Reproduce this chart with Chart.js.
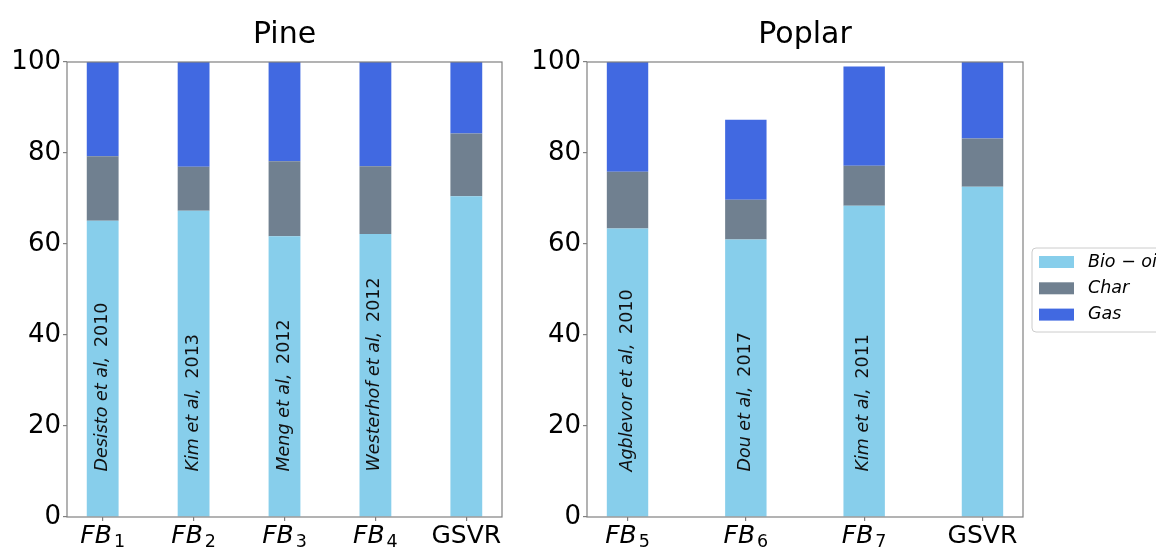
<!DOCTYPE html>
<html>
<head>
<meta charset="utf-8">
<script src="https://cdn.jsdelivr.net/npm/chart.js@4.4.1/dist/chart.umd.min.js"></script>
<style>
  html, body { margin: 0; padding: 0; background: #ffffff; }
  #wrap { position: relative; width: 1156px; height: 548px; overflow: hidden; background: #fff; }
  #pine { position: absolute; left: 0; top: 0; width: 520px; height: 548px; }
  #poplar { position: absolute; left: 520px; top: 0; width: 636px; height: 548px; }
</style>
</head>
<body>
<div id="wrap">
  <canvas id="pine" width="520" height="548"></canvas>
  <canvas id="poplar" width="636" height="548"></canvas>
</div>
<script>
// ---------------- data ----------------
const seriesNames = ['Bio \u2212 oil', 'Char', 'Gas'];
const seriesColors = ['#87CEEB', '#708090', '#4169E1'];

const pineTitle = 'Pine';
const pineLabels = ['FB1', 'FB2', 'FB3', 'FB4', 'GSVR'];
const pineBioOil = [65.1, 67.3, 61.7, 62.2, 70.5];
const pineChar   = [14.2,  9.7, 16.5, 14.9, 13.8];
const pineGas    = [20.7, 23.0, 21.8, 22.9, 15.7];
const pineRefs   = ['Desisto et al,', 'Kim et al,', 'Meng et al,', 'Westerhof et al,', ''];
const pineYears  = ['2010', '2013', '2012', '2012', ''];

const poplarTitle = 'Poplar';
const poplarLabels = ['FB5', 'FB6', 'FB7', 'GSVR'];
const poplarBioOil = [63.4, 61.0, 68.4, 72.6];
const poplarChar   = [12.5,  8.7,  8.8, 10.6];
const poplarGas    = [24.1, 17.6, 21.8, 16.8];
const poplarRefs   = ['Agblevor et al,', 'Dou et al,', 'Kim et al,', ''];
const poplarYears  = ['2010', '2017', '2011', ''];

const yTicks = [0, 20, 40, 60, 80, 100];
const refTextValue = 10;   // y value where the reference text starts

// ---------------- drawing helpers ----------------
const FONT = "'DejaVu Sans', 'Liberation Sans', sans-serif";
const SPINE = '#808080';

function drawTickLabel(ctx, label, x, y) {
  const m = /^([A-Za-z]+)(\d+)$/.exec(label);
  ctx.fillStyle = '#000';
  ctx.textBaseline = 'alphabetic';
  if (m) {
    const mainFont = 'italic 25px ' + FONT;
    const subFont = '17.5px ' + FONT;
    ctx.font = mainFont; const w1 = ctx.measureText(m[1]).width;
    ctx.font = subFont;  const w2 = ctx.measureText(m[2]).width;
    const gap = 2;
    const x0 = x - (w1 + gap + w2) / 2;
    ctx.textAlign = 'left';
    ctx.font = mainFont; ctx.fillText(m[1], x0, y);
    ctx.font = subFont;  ctx.fillText(m[2], x0 + w1 + gap, y + 4);
  } else {
    ctx.textAlign = 'center';
    ctx.font = '25px ' + FONT;
    ctx.fillText(label, x, y);
  }
}

const decorPlugin = {
  id: 'decor',
  afterDraw(chart) {
    const o = chart.options.plugins.decor;
    const { ctx, chartArea: a, scales } = chart;
    ctx.save();
    // frame (all four spines)
    ctx.strokeStyle = SPINE;
    ctx.lineWidth = 1.2;
    ctx.strokeRect(a.left, a.top, a.right - a.left, a.bottom - a.top);

    // title
    ctx.fillStyle = '#000';
    ctx.font = '30px ' + FONT;
    ctx.textAlign = 'center';
    ctx.textBaseline = 'alphabetic';
    ctx.fillText(o.title, (a.left + a.right) / 2, a.top - 19);

    // x tick labels
    o.labels.forEach((lab, i) => {
      drawTickLabel(ctx, lab, scales.x.getPixelForValue(i), a.bottom + 26);
    });

    // rotated reference texts inside bars
    const yPix = scales.y.getPixelForValue(refTextValue);
    o.refs.forEach((ref, i) => {
      if (!ref) return;
      const xPix = scales.x.getPixelForValue(i);
      ctx.save();
      ctx.translate(xPix, yPix);
      ctx.rotate(-Math.PI / 2);
      ctx.fillStyle = '#111';
      ctx.textAlign = 'left';
      ctx.textBaseline = 'alphabetic';
      ctx.font = 'italic 17.5px ' + FONT;
      ctx.fillText(ref, 0, 4);
      const w = ctx.measureText(ref).width;
      ctx.font = '17.5px ' + FONT;
      ctx.fillText(o.years[i], w + 17.5 * 0.55, 4);
      ctx.restore();
    });

    // legend
    if (o.legend) {
      const fx = a.right + 9, fy = a.top + 186, fw = 170, fh = 84, r = 4;
      ctx.beginPath();
      ctx.moveTo(fx + r, fy);
      ctx.lineTo(fx + fw - r, fy);
      ctx.arcTo(fx + fw, fy, fx + fw, fy + r, r);
      ctx.lineTo(fx + fw, fy + fh - r);
      ctx.arcTo(fx + fw, fy + fh, fx + fw - r, fy + fh, r);
      ctx.lineTo(fx + r, fy + fh);
      ctx.arcTo(fx, fy + fh, fx, fy + fh - r, r);
      ctx.lineTo(fx, fy + r);
      ctx.arcTo(fx, fy, fx + r, fy, r);
      ctx.closePath();
      ctx.fillStyle = 'rgba(255,255,255,0.8)';
      ctx.fill();
      ctx.strokeStyle = '#cccccc';
      ctx.lineWidth = 1;
      ctx.stroke();
      chart.data.datasets.forEach((ds, i) => {
        const py = fy + 8 + i * 26.3;
        ctx.fillStyle = ds.backgroundColor;
        ctx.fillRect(fx + 7, py, 35, 12);
        ctx.fillStyle = '#000';
        ctx.font = 'italic 17.5px ' + FONT;
        ctx.textAlign = 'left';
        ctx.textBaseline = 'middle';
        ctx.fillText(ds.label, fx + 56, py + 6);
      });
    }
    ctx.restore();
  }
};

function makeChart(id, title, labels, bio, chr, gas, refs, years, rightPad, legend) {
  const n = labels.length;
  const barW = 0.35;
  const margin = 0.05 * (n - 1 + barW);
  const xMin = -barW / 2 - margin;
  const xMax = n - 1 + barW / 2 + margin;
  const toPts = arr => arr.map((v, i) => ({ x: i, y: v }));
  const series = [bio, chr, gas];
  const gridOpts = {
    display: true, drawOnChartArea: false, drawTicks: true, offset: false,
    tickLength: 4, color: SPINE, lineWidth: 1.2
  };
  return new Chart(document.getElementById(id), {
    type: 'bar',
    data: {
      datasets: series.map((arr, k) => ({
        label: seriesNames[k],
        data: toPts(arr),
        backgroundColor: seriesColors[k],
        borderWidth: 0,
        categoryPercentage: 1.0,
        barPercentage: barW
      }))
    },
    options: {
      responsive: false,
      animation: false,
      devicePixelRatio: 1,
      layout: { padding: { top: 62, right: rightPad, bottom: 0, left: 0 } },
      plugins: {
        legend: { display: false },
        title: { display: false },
        tooltip: { enabled: false },
        decor: { title, labels, refs, years, legend }
      },
      scales: {
        x: {
          type: 'linear', stacked: true, min: xMin, max: xMax, offset: false,
          afterBuildTicks: s => { s.ticks = labels.map((_, i) => ({ value: i })); },
          afterFit: s => { s.height = 31; },
          ticks: { display: false },
          grid: gridOpts,
          border: { display: false }
        },
        y: {
          type: 'linear', stacked: true, min: 0, max: 100,
          afterBuildTicks: s => { s.ticks = yTicks.map(v => ({ value: v })); },
          afterFit: s => { s.width = 67; },
          ticks: { color: '#000', padding: 2, font: { size: 26, family: FONT } },
          grid: gridOpts,
          border: { display: false }
        }
      }
    },
    plugins: [decorPlugin]
  });
}

makeChart('pine', pineTitle, pineLabels, pineBioOil, pineChar, pineGas, pineRefs, pineYears, 18, false);
makeChart('poplar', poplarTitle, poplarLabels, poplarBioOil, poplarChar, poplarGas, poplarRefs, poplarYears, 133, true);
</script>
</body>
</html>
